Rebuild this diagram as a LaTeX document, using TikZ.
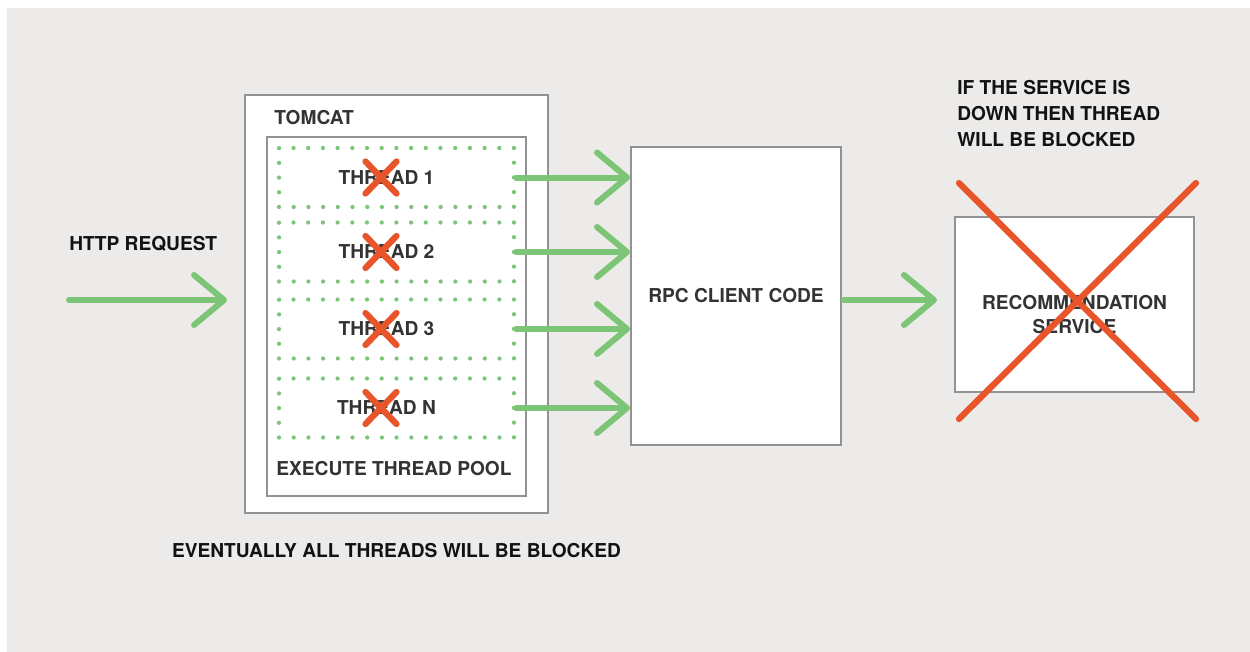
\documentclass[tikz,border=0pt]{standalone}
\usepackage{fontspec}
\setmainfont{TeX Gyre Heros}
\usetikzlibrary{arrows.meta}

\definecolor{bggray}{RGB}{236,235,233}
\definecolor{boxgray}{RGB}{146,146,149}
\definecolor{flowgreen}{RGB}{124,197,118}
\definecolor{crossred}{RGB}{233,85,42}
\definecolor{textdark}{RGB}{51,51,51}

\begin{document}
\begin{tikzpicture}[x=0.02cm, y=-0.02cm, font=\fontsize{10.9}{14.6}\selectfont\bfseries]
    % Define the styles for each node
    \tikzstyle{box} = [rectangle, draw=boxgray, line width=0.4mm, fill=white, inner sep=0pt]
    \tikzstyle{thread} = [rectangle, draw=flowgreen, line width=0.85mm, line cap=round, dash pattern=on 0pt off 2.94mm, minimum width=47mm, minimum height=11.8mm, inner sep=0pt]
    \tikzstyle{label} = [inner sep=0pt, text=textdark]
    \tikzstyle{note} = [inner sep=0pt, text=black!93]
    \tikzstyle{flow} = [draw=flowgreen, line width=1.2mm, line cap=round, -{Straight Barb[length=6mm, width=10mm, round]}]
    \tikzstyle{cross} = [draw=crossred, line width=1.25mm, line cap=round]

    % Background
    \useasboundingbox (0,0) rectangle (1250,652);
    \fill[bggray] (7,8) rectangle (1250,652);

    % Create the nodes for the server
    \node [box, minimum width=60.6mm, minimum height=83.6mm] (tomcat) at (396.5,304) {};
    \node [box, minimum width=51.8mm, minimum height=71.8mm] (pool) at (396.5,316.5) {};
    \node [label, anchor=west] (tomcatlabel) at ([shift={(30,23)}]tomcat.north west) {TOMCAT};
    \node [label] (poollabel) at ([shift={(-2.5,-28)}]pool.south) {EXECUTE THREAD POOL};

    % Create the nodes for each thread
    \node [thread] (t1) at (396.5,177.5) {};
    \node [thread] (t2) at (396.5,252) {};
    \node [thread] (t3) at (396.5,329) {};
    \node [thread] (tn) at (396.5,408) {};
    \node [label] (t1label) at ([xshift=-2mm]t1.center) {THREAD 1};
    \node [label] (t2label) at ([xshift=-2mm]t2.center) {THREAD 2};
    \node [label] (t3label) at ([xshift=-2mm]t3.center) {THREAD 3};
    \node [label] (tnlabel) at ([xshift=-2mm]tn.center) {THREAD N};

    % Create the nodes for the client and the service
    \node [box, minimum width=42mm, minimum height=59.6mm] (rpc) at (736,296) {};
    \node [label] (rpclabel) at (rpc.center) {RPC CLIENT CODE};
    \node [box, minimum width=47.8mm, minimum height=35mm] (rec) at (1074.5,304.5) {};
    \node [label, align=center] (reclabel) at ([yshift=-2mm]rec.center) {RECOMMENDATION\\[-0.3mm]SERVICE};

    % Add the notes outside the boxes
    \node [note, anchor=west] (http) at (69,244) {HTTP REQUEST};
    \node [note, anchor=west, align=left] (down) at (957,113.5) {IF THE SERVICE IS\\[0.1mm]DOWN THEN THREAD\\[0.1mm]WILL BE BLOCKED};
    \node [note] (eventually) at ([yshift=-7.4mm]tomcat.south) {EVENTUALLY ALL THREADS WILL BE BLOCKED};
    \coordinate (req) at (69,300);

    % Draw the arrows between the nodes
    \draw [flow, shorten >=3.4mm] (req) -- (req -| tomcat.west);
    \draw [flow] (t1.east) -- (t1.east -| rpc.west);
    \draw [flow] (t2.east) -- (t2.east -| rpc.west);
    \draw [flow] (t3.east) -- (t3.east -| rpc.west);
    \draw [flow] (tn.east) -- (tn.east -| rpc.west);
    \draw [flow, shorten <=0.4mm, shorten >=3.4mm] (rpc.east |- req) -- (rec.west |- req);

    % Cross out the blocked threads
    \draw [cross] ([shift={(-31,-16)}]t1.center) -- ([shift={(0,16)}]t1.center);
    \draw [cross] ([shift={(-31,16)}]t1.center) -- ([shift={(0,-16)}]t1.center);
    \draw [cross] ([shift={(-31,-16)}]t2.center) -- ([shift={(0,16)}]t2.center);
    \draw [cross] ([shift={(-31,16)}]t2.center) -- ([shift={(0,-16)}]t2.center);
    \draw [cross] ([shift={(-31,-16)}]t3.center) -- ([shift={(0,16)}]t3.center);
    \draw [cross] ([shift={(-31,16)}]t3.center) -- ([shift={(0,-16)}]t3.center);
    \draw [cross] ([shift={(-31,-16)}]tn.center) -- ([shift={(0,16)}]tn.center);
    \draw [cross] ([shift={(-31,16)}]tn.center) -- ([shift={(0,-16)}]tn.center);

    % Cross out the service
    \draw [cross] ([shift={(5,-33)}]rec.north west) -- ([shift={(1,26)}]rec.south east);
    \draw [cross] ([shift={(1,-33)}]rec.north east) -- ([shift={(5,26)}]rec.south west);
\end{tikzpicture}
\end{document}
